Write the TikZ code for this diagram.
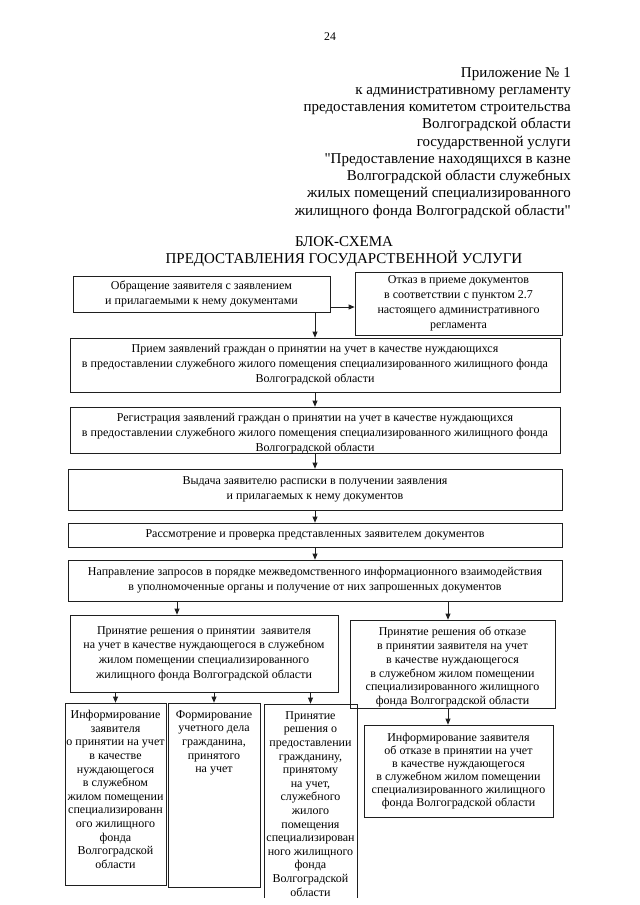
\documentclass[tikz,border=0pt]{standalone}
\usepackage{fontspec}
\setmainfont{Liberation Serif}
\usetikzlibrary{arrows.meta, positioning}
\definecolor{inkgray}{gray}{0.12}
\newcommand{\pxu}{0.9336pt}
\newcommand{\boxfont}{\fontsize{11.2}{14}\selectfont}
\newcommand{\colfont}{\fontsize{11.2}{12.7}\selectfont}
\newcommand{\headfont}{\fontsize{14}{16.1}\selectfont}

\begin{document}
\begin{tikzpicture}[x=0.9336pt, y=-0.9336pt,
    box/.style={draw=inkgray, line width=0.7pt, inner sep=0pt, align=center, font=\boxfont},
    btext/.style={align=center, inner sep=0pt, font=\colfont},
    arr/.style={-{Triangle[length=5.5pt, width=4.5pt]}, draw=inkgray, line width=0.7pt}]
    \useasboundingbox (0,0) rectangle (640,905);

    % page header
    \node[font=\fontsize{11}{12}\selectfont] (pagenum) at (330,37) {24};
    \node[anchor=north east, align=right, inner sep=0pt, font=\headfont] (appx) at (571,67) {%
        Приложение № 1\\к административному регламенту\\предоставления комитетом строительства\\Волгоградской области\\государственной услуги\\\textquotedbl Предоставление находящихся в казне\\Волгоградской области служебных\\жилых помещений специализированного\\жилищного фонда Волгоградской области\textquotedbl};
    \node[align=center, inner sep=0pt, font=\headfont] (title) at (344,252) {БЛОК-СХЕМА\\ПРЕДОСТАВЛЕНИЯ ГОСУДАРСТВЕННОЙ УСЛУГИ};

    % main chain
    \node[box, minimum width=257*\pxu, minimum height=36*\pxu] (obr) at (201.5,294) {Обращение заявителя с заявлением\\и прилагаемыми к нему документами};
    \node[box, minimum width=207*\pxu, minimum height=63*\pxu] (otkaz) at (458.5,303.5) {Отказ в приеме документов\\в соответствии с пунктом 2.7\\настоящего административного\\регламента};
    \node[box, minimum width=490*\pxu, minimum height=54*\pxu] (priem) at (315,365) {Прием заявлений граждан о принятии на учет в качестве нуждающихся\\в предоставлении служебного жилого помещения специализированного жилищного фонда\\Волгоградской области};
    \node[box, minimum width=490*\pxu, minimum height=46*\pxu] (reg) at (315,430) {};
    \node[btext, font=\boxfont] (regtxt) at ([yshift=-3pt]reg.center) {Регистрация заявлений граждан о принятии на учет в качестве нуждающихся\\в предоставлении служебного жилого помещения специализированного жилищного фонда\\Волгоградской области};
    \node[box, minimum width=494*\pxu, minimum height=41*\pxu] (vyd) at (315,489.5) {Выдача заявителю расписки в получении заявления\\и прилагаемых к нему документов};
    \node[box, minimum width=494*\pxu, minimum height=24*\pxu] (rassm) at (315,535) {Рассмотрение и проверка представленных заявителем документов};
    \node[box, minimum width=494*\pxu, minimum height=41*\pxu] (napr) at (315,580.5) {Направление запросов в порядке межведомственного информационного взаимодействия\\в уполномоченные органы и получение от них запрошенных документов};

    % decisions
    \node[box, minimum width=268*\pxu, minimum height=77*\pxu, font=\fontsize{11.2}{13.7}\selectfont] (yesdec) at (204,653.5) {Принятие решения о принятии\ \ заявителя\\на учет в качестве нуждающегося в служебном\\жилом помещении специализированного\\жилищного фонда Волгоградской области};
    \node[box, minimum width=205*\pxu, minimum height=88*\pxu] (nodec) at (452.5,664) {};
    \node[btext, font=\fontsize{11.2}{12.9}\selectfont] (nodectxt) at ([yshift=-3pt]nodec.center) {Принятие решения об отказе\\в принятии заявителя на учет\\в качестве нуждающегося\\в служебном жилом помещении\\специализированного жилищного\\фонда Волгоградской области};
    \node[box, minimum width=189*\pxu, minimum height=92*\pxu, font=\fontsize{11.2}{12.2}\selectfont] (noinfo) at (458.5,771) {Информирование заявителя\\об отказе в принятии на учет\\в качестве нуждающегося\\в служебном жилом помещении\\специализированного жилищного\\фонда Волгоградской области};

    % bottom row, text set from the top
    \node[box, minimum width=101*\pxu, minimum height=182*\pxu] (yesinfo) at (115.5,794) {};
    \node[btext, below=7pt of yesinfo.north] (yesinfotxt) {Информирование\\заявителя\\о принятии на учет\\в качестве\\нуждающегося\\в служебном\\жилом помещении\\специализированн\\ого жилищного\\фонда\\Волгоградской\\области};
    \node[box, minimum width=92*\pxu, minimum height=184*\pxu] (file) at (214,795) {};
    \node[btext, below=7pt of file.north] (filetxt) {Формирование\\учетного дела\\гражданина,\\принятого\\на учет};
    \begin{scope}
        \clip (0,0) rectangle (640,897);
        \node[box, minimum width=93*\pxu, minimum height=226*\pxu] (grant) at (310.5,817) {};
        \node[btext, below=7pt of grant.north] (granttxt) {Принятие\\решения о\\предоставлении\\гражданину,\\принятому\\на учет,\\служебного\\жилого\\помещения\\специализирован\\ного жилищного\\фонда\\Волгоградской\\области};
    \end{scope}

    % connectors
    \coordinate (refuse) at (0,307);
    \coordinate (splitl) at (177,0);
    \coordinate (splitr) at (448,0);
    \draw[arr] (obr.east |- refuse) -- (otkaz.west |- refuse);
    \draw[arr] (obr.south -| priem) -- (priem.north);
    \draw[arr] (priem.south) -- (reg.north);
    \draw[arr] (reg.south) -- (vyd.north);
    \draw[arr] (vyd.south) -- (rassm.north);
    \draw[arr] (rassm.south) -- (napr.north);
    \draw[arr] (napr.south -| splitl) -- (yesdec.north -| splitl);
    \draw[arr] (napr.south -| splitr) -- (nodec.north -| splitr);
    \draw[arr] (yesdec.south -| yesinfo) -- (yesinfo.north);
    \draw[arr] (yesdec.south -| file) -- (file.north);
    \draw[arr] (yesdec.south -| grant) -- (grant.north);
    \draw[arr] (nodec.south -| splitr) -- (noinfo.north -| splitr);
\end{tikzpicture}
\end{document}
